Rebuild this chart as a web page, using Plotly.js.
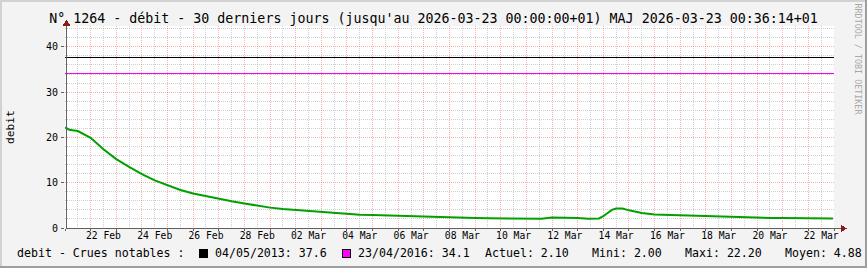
<!DOCTYPE html>
<html>
<head>
<meta charset="utf-8">
<script src="https://cdn.plot.ly/plotly-3.0.1.min.js"></script>
<style>
  html, body { margin: 0; padding: 0; background: #f3f3f3; }
  #chart { width: 867px; height: 268px; }
  #chart .shapelayer path { shape-rendering: crispEdges; }
</style>
</head>
<body>
<div id="chart"></div>
<script>
// ---- Data ----
const rangeStart = '2026-02-21 00:00';
const rangeEnd = '2026-03-23 00:00';

const debitTimes = [
  '2026-02-21 00:00', '2026-02-21 04:00', '2026-02-21 12:00', '2026-02-22 00:00', '2026-02-22 12:00',
  '2026-02-23 00:00', '2026-02-23 12:00', '2026-02-24 00:00', '2026-02-24 12:00', '2026-02-25 00:00',
  '2026-02-25 12:00', '2026-02-26 00:00', '2026-02-26 12:00', '2026-02-27 00:00', '2026-02-27 12:00',
  '2026-02-28 00:00', '2026-02-28 12:00', '2026-03-01 00:00', '2026-03-01 12:00', '2026-03-02 00:00',
  '2026-03-02 12:00', '2026-03-03 00:00', '2026-03-03 12:00', '2026-03-04 00:00', '2026-03-04 12:00',
  '2026-03-05 00:00', '2026-03-05 12:00', '2026-03-06 00:00', '2026-03-06 12:00', '2026-03-07 00:00',
  '2026-03-07 12:00', '2026-03-08 00:00', '2026-03-08 12:00', '2026-03-09 00:00', '2026-03-09 12:00',
  '2026-03-10 00:00', '2026-03-10 08:00', '2026-03-10 14:00', '2026-03-11 00:00', '2026-03-11 08:00',
  '2026-03-11 14:00', '2026-03-12 00:00', '2026-03-12 12:00', '2026-03-13 00:00', '2026-03-13 10:00',
  '2026-03-13 20:00', '2026-03-14 00:00', '2026-03-14 04:00', '2026-03-14 08:00', '2026-03-14 12:00',
  '2026-03-14 18:00', '2026-03-15 00:00', '2026-03-15 06:00', '2026-03-15 12:00', '2026-03-16 00:00',
  '2026-03-16 12:00', '2026-03-17 00:00', '2026-03-17 12:00', '2026-03-18 00:00', '2026-03-18 12:00',
  '2026-03-19 00:00', '2026-03-19 12:00', '2026-03-20 00:00', '2026-03-20 12:00', '2026-03-21 00:00',
  '2026-03-21 12:00', '2026-03-22 00:00', '2026-03-22 12:00', '2026-03-22 23:00'
];
const debitValues = [
  22.2, 21.7, 21.4, 19.9, 17.4,
  15.2, 13.5, 11.9, 10.5, 9.4,
  8.4, 7.6, 7.0, 6.4, 5.9,
  5.4, 4.9, 4.5, 4.2, 4.0,
  3.8, 3.5, 3.25, 3.05, 2.95,
  2.85, 2.75, 2.65, 2.55, 2.45,
  2.35, 2.3, 2.25, 2.2, 2.15,
  2.15, 2.0, 2.15, 2.15, 2.0,
  2.05, 2.3, 2.3, 2.2, 2.05,
  2.1, 2.6, 3.3, 4.0, 4.3,
  4.3, 3.9, 3.6, 3.3, 3.0,
  2.9, 2.8, 2.7, 2.6, 2.55,
  2.4, 2.4, 2.35, 2.2, 2.2,
  2.15, 2.15, 2.1, 2.1
];

const crueDates = ['04/05/2013', '23/04/2016'];
const crueValues = [37.6, 34.1];
const crueColors = ['#000000', '#ff00ff'];

const statLabels = ['Actuel', 'Mini', 'Maxi', 'Moyen'];
const statValues = [2.10, 2.00, 22.20, 4.88];

const xTickVals = [
  '2026-02-22 12:00', '2026-02-24 12:00', '2026-02-26 12:00', '2026-02-28 12:00', '2026-03-02 12:00',
  '2026-03-04 12:00', '2026-03-06 12:00', '2026-03-08 12:00', '2026-03-10 12:00', '2026-03-12 12:00',
  '2026-03-14 12:00', '2026-03-16 12:00', '2026-03-18 12:00', '2026-03-20 12:00', '2026-03-22 12:00'
];
const xTickText = [
  '22 Feb', '24 Feb', '26 Feb', '28 Feb', '02 Mar', '04 Mar', '06 Mar', '08 Mar',
  '10 Mar', '12 Mar', '14 Mar', '16 Mar', '18 Mar', '20 Mar', '22 Mar'
];

const titleText = "N° 1264 - débit - 30 derniers jours (jusqu'au 2026-03-23 00:00:00+01) MAJ 2026-03-23 00:36:14+01";
const yTitle = 'debit';
const legendIntro = 'debit - Crues notables :';
const watermark = 'RRDTOOL / TOBI OETIKER';

// ---- Layout geometry (pixels) ----
const W = 867, H = 268, L = 65, R = 33, T = 26, B = 40;
const PW = W - L - R, PH = H - T - B;
const px = x => (x - L) / PW;
const py = y => (H - B - y) / PH;

const MONO = 'DejaVu Sans Mono, monospace';
const DAY = 86400000;
const redGrid = 'rgba(255,0,0,0.32)';
const grayGrid = 'rgba(150,150,150,0.45)';

const traces = [
  {
    x: debitTimes, y: debitValues, type: 'scatter', mode: 'lines',
    line: { color: '#00a000', width: 2 }, xaxis: 'x', yaxis: 'y', hoverinfo: 'skip'
  },
  // carrier for the label axis (no visible mark)
  { x: [rangeStart], y: [null], type: 'scatter', mode: 'lines', xaxis: 'x2', yaxis: 'y', hoverinfo: 'skip' }
];

function rectPx(x0, y0, x1, y1, color) {
  return { type: 'rect', xref: 'paper', yref: 'paper', x0: px(x0), x1: px(x1), y0: py(y0), y1: py(y1),
           fillcolor: color, line: { width: 0 }, layer: 'above' };
}
function linePx(x0, y0, x1, y1, color) {
  return { type: 'line', xref: 'paper', yref: 'paper', x0: px(x0), x1: px(x1), y0: py(y0), y1: py(y1),
           line: { color: color, width: 1 }, layer: 'above' };
}
function triPx(pts, color) {
  const p = pts.map((q, i) => (i ? 'L' : 'M') + px(q[0]) + ',' + py(q[1])).join(' ') + ' Z';
  return { type: 'path', xref: 'paper', yref: 'paper', path: p, fillcolor: color, line: { color: color, width: 1 }, layer: 'above' };
}

const axisColor = '#606060';
const arrowColor = '#8b1a1a';
const shapes = [];
// reference flood levels: horizontal lines on the y data scale, across the whole plot
crueValues.forEach((v, i) => {
  shapes.push({ type: 'line', xref: 'x', yref: 'y', x0: rangeStart, x1: rangeEnd, y0: v, y1: v,
                line: { color: crueColors[i], width: 1 }, layer: 'above' });
});
shapes.push(
  // frame
  rectPx(0, 0, W, 2, '#d2d2d2'),
  rectPx(0, 0, 2, H, '#d2d2d2'),
  rectPx(0, H - 2, W, H, '#9e9e9e'),
  rectPx(W - 2, 0, W, H, '#9e9e9e'),
  // axes
  linePx(66.5, 228.5, 842, 228.5, axisColor),
  linePx(66.5, 228.5, 66.5, 24, axisColor),
  triPx([[841, 225.5], [846, 228.5], [841, 231.5]], arrowColor),
  triPx([[63.5, 25], [66.5, 20.5], [69.5, 25]], arrowColor),
  // legend squares
  { type: 'rect', xref: 'paper', yref: 'paper', x0: px(199.5), x1: px(207.5), y0: py(249.5), y1: py(257.5),
    fillcolor: crueColors[0], line: { color: '#000', width: 1 }, layer: 'above' },
  { type: 'rect', xref: 'paper', yref: 'paper', x0: px(342.5), x1: px(350.5), y0: py(249.5), y1: py(257.5),
    fillcolor: crueColors[1], line: { color: '#000', width: 1 }, layer: 'above' }
);

function ann(text, x, y, opts) {
  return Object.assign({
    text: text, xref: 'paper', yref: 'paper', x: px(x), y: py(y),
    xanchor: 'left', yanchor: 'middle', showarrow: false, borderpad: 0,
    font: { family: MONO, size: 11.6, color: '#000' }
  }, opts || {});
}

const legY = 253.5;
const annotations = [
  ann(yTitle, 10, 127, { xanchor: 'center', textangle: -90, font: { family: MONO, size: 11.2, color: '#000' } }),
  ann(watermark, 857.5, 59, { xanchor: 'center', textangle: 90, font: { family: MONO, size: 8.4, color: '#a8a8a8' } }),
  ann(legendIntro, 16, legY),
  ann(crueDates[0] + ': ' + crueValues[0].toFixed(1), 214, legY),
  ann(crueDates[1] + ': ' + crueValues[1].toFixed(1), 356.5, legY),
  ann(statLabels[0] + ': ' + statValues[0].toFixed(2), 484, legY),
  ann(statLabels[1] + ': ' + statValues[1].toFixed(2), 591, legY),
  ann(statLabels[2] + ': ' + statValues[2].toFixed(2), 684, legY),
  ann(statLabels[3] + ': ' + statValues[3].toFixed(2), 783.5, legY)
];

const layout = {
  width: W, height: H,
  margin: { l: L, r: R, t: T, b: B, pad: 0 },
  paper_bgcolor: '#f3f3f3',
  plot_bgcolor: '#ffffff',
  showlegend: false,
  title: {
    text: titleText, xref: 'container', x: 0.5, xanchor: 'center',
    yref: 'container', y: 1 - 18.5 / H, yanchor: 'middle',
    font: { family: MONO, size: 13.3, color: '#000' }
  },
  xaxis: {
    type: 'date', range: [rangeStart, rangeEnd], fixedrange: true,
    tick0: rangeStart, dtick: DAY, showticklabels: false,
    showgrid: true, gridcolor: redGrid, gridwidth: 1, griddash: '1px,1px',
    ticks: 'outside', ticklen: 2, tickcolor: axisColor,
    minor: { tick0: rangeStart, dtick: DAY / 2, showgrid: true, gridcolor: grayGrid, griddash: '1px,1px', ticks: '' },
    showline: false, zeroline: false
  },
  xaxis2: {
    type: 'date', range: [rangeStart, rangeEnd], fixedrange: true, overlaying: 'x', anchor: 'y', side: 'bottom',
    tickmode: 'array', tickvals: xTickVals, ticktext: xTickText,
    showgrid: false, zeroline: false, showline: false, ticks: '',
    tickfont: { family: MONO, size: 9.7, color: '#000' }
  },
  yaxis: {
    range: [0, 44.6], fixedrange: true, tick0: 0, dtick: 10,
    showgrid: true, gridcolor: redGrid, gridwidth: 1, griddash: '1px,1px',
    ticks: 'outside', ticklen: 3, tickcolor: axisColor,
    tickfont: { family: MONO, size: 10, color: '#000' }, ticklabelstandoff: 1,
    minor: { tick0: 0, dtick: 2, showgrid: true, gridcolor: grayGrid, griddash: '1px,1px', ticks: '' },
    showline: false, zeroline: false
  },
  shapes: shapes,
  annotations: annotations
};

Plotly.newPlot('chart', traces, layout, { staticPlot: true, displayModeBar: false });
</script>
</body>
</html>
